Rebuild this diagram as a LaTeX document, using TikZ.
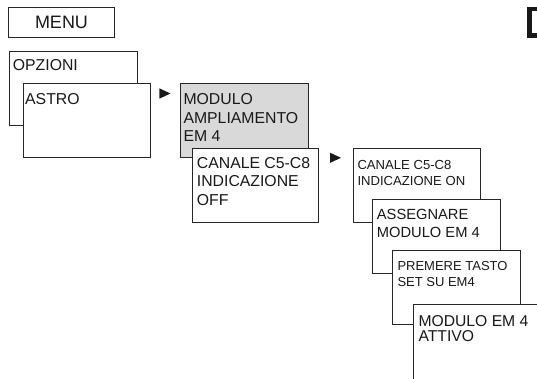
\documentclass[tikz,border=0pt]{standalone}
\usepackage{fontspec}
\setmainfont{Liberation Sans}
\usetikzlibrary{calc}
\begin{document}
\begin{tikzpicture}[x=1pt,y=-1pt,
  box/.style={draw=black!85, line width=0.9pt, fill=white, inner sep=0pt, anchor=north west},
  grey box/.style={box, fill=black!15},
  txt/.style={inner sep=0pt, anchor=base west, align=left, text=black!90},
  big/.style={font=\fontsize{15.8}{18.7}\selectfont},
  mid/.style={font=\fontsize{14.7}{18}\selectfont},
  small/.style={font=\fontsize{13.1}{16.4}\selectfont},
  tri/.style={fill=black!90}]
\useasboundingbox (0,0) rectangle (537,378);
\clip (0,0) rectangle (537,378);
% MENU
\node[box, minimum width=106, minimum height=29.4] (menu) at (8.3,7.3) {};
\node[inner sep=0pt, anchor=base, text=black!90, font=\fontsize{18}{22}\selectfont] (menut) at (61.5,28.3) {MENU};
% OPZIONI
\node[box, minimum width=128.3, minimum height=74.3] (opz) at (9,50.7) {};
\node[txt, big] (opzt) at ($(opz.north west)+(3.7,20)$) {OPZIONI};
% ASTRO
\node[box, minimum width=127.3, minimum height=74.6] (astro) at (22.7,82.7) {};
\node[txt, big] (astrot) at ($(astro.north west)+(2.3,21.3)$) {ASTRO};
% arrow 1
\fill[tri] (159.3,88.3) -- (159.3,98.7) -- (170.5,93.5) -- cycle;
% MODULO AMPLIAMENTO (anchor at baseline of last line)
\node[grey box, minimum width=128, minimum height=74] (mod) at (180,83) {};
\node[txt, big] (modt) at ($(mod.north west)+(3.3,58.7)$) {MODULO\\AMPLIAMENTO\\EM 4};
% CANALE OFF
\node[box, minimum width=126.3, minimum height=74] (off) at (192,148) {};
\node[txt, big] (offt) at ($(off.north west)+(4.7,57.5)$) {CANALE C5-C8\\INDICAZIONE\\OFF};
% arrow 2
\fill[tri] (330,152.7) -- (330,162.9) -- (341,157.8) -- cycle;
% CANALE ON
\node[box, minimum width=127, minimum height=74] (on) at (353,148) {};
\node[txt, small] (ont) at ($(on.north west)+(4.3,37.7)$) {CANALE C5-C8\\INDICAZIONE ON};
% ASSEGNARE
\node[box, minimum width=128, minimum height=74] (ass) at (372,199) {};
\node[txt, mid] (asst) at ($(ass.north west)+(4.7,38.3)$) {ASSEGNARE\\MODULO EM 4};
% PREMERE
\node[box, minimum width=128, minimum height=74] (pre) at (392,250) {};
\node[txt, small, font=\fontsize{13}{16}\selectfont] (pret) at ($(pre.north west)+(5.3,36.3)$) {PREMERE TASTO\\SET SU EM4};
% ATTIVO
\node[box, minimum width=200, minimum height=150] (att) at (413,304) {};
\node[txt, font=\fontsize{15.7}{15.7}\selectfont] (attt) at ($(att.north west)+(5.3,37.7)$) {MODULO EM 4\\ATTIVO};
% black tab top right
\fill[black!90] (526.7,6.7) rectangle (540,38.3);
\fill[white] (532.3,10.7) rectangle (540,33.3);
\end{tikzpicture}
\end{document}
